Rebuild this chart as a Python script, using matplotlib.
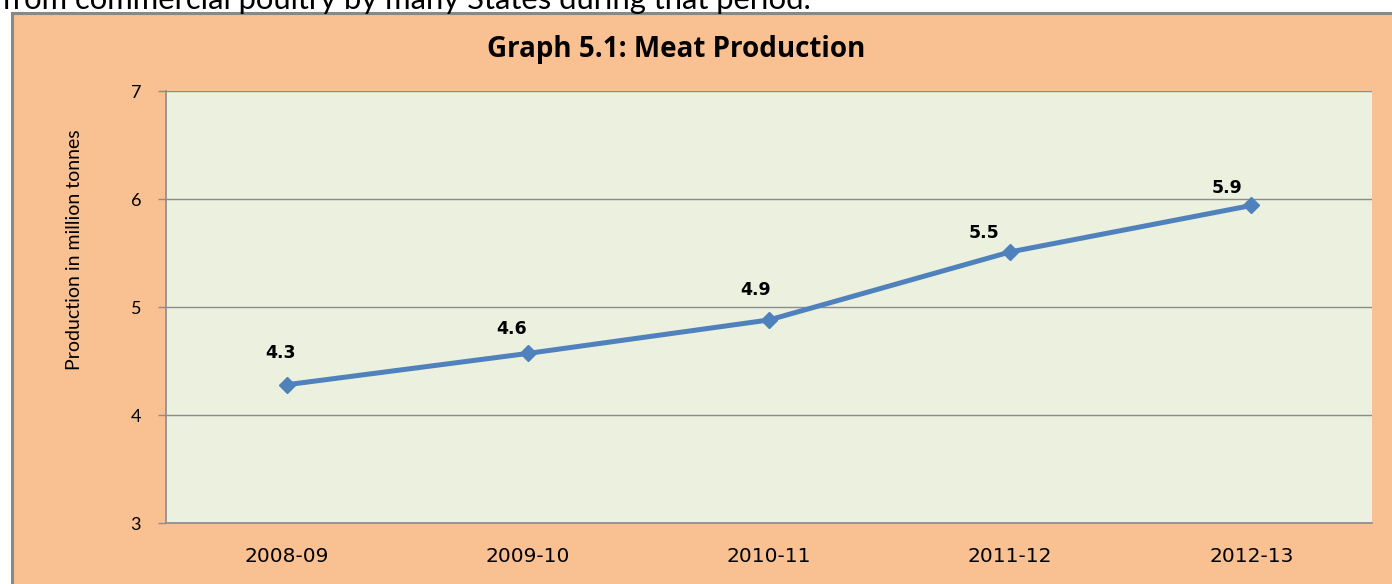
import matplotlib
matplotlib.use("Agg")
import matplotlib.pyplot as plt
from matplotlib.patches import Rectangle

categories = ["2008-09", "2009-10", "2010-11", "2011-12", "2012-13"]
production = [4.28, 4.57, 4.88, 5.51, 5.94]
value_labels = ["4.3", "4.6", "4.9", "5.5", "5.9"]
y_ticks = [3, 4, 5, 6, 7]

# label offsets in pixels (dx, dy) relative to marker
label_offsets = [(-6, 32), (-16, 24), (-13, 30), (-26, 19), (-24, 17)]

W, H, DPI = 1392, 584, 100
fig = plt.figure(figsize=(W / DPI, H / DPI), dpi=DPI, facecolor="white")

ORANGE = "#F9C092"
PLOTBG = "#EBF0DF"
LINE = "#4F81BD"
GRID = "#8C8C8C"

# outer chart frame
fig.patches.append(Rectangle((12 / W, -0.05), 1.1, 1 - 13 / H + 0.05,
                             transform=fig.transFigure, facecolor=ORANGE,
                             edgecolor="#888888", linewidth=2.2, zorder=-5))

# cropped body text at very top
fig.text(2 / W, 1 - 9 / H, "from commercial poultry by many States during that period.",
         fontsize=22.3, family="Lato", color="black", va="baseline", ha="left")

ax = fig.add_axes([166 / W, 1 - 523 / H, (1372 - 166) / W, (523 - 91) / H])
ax.set_zorder(5)
ax.set_facecolor(PLOTBG)
x = list(range(len(categories)))
ax.plot(x, production, color=LINE, lw=3.6, marker="D", ms=8.5, mfc=LINE, mec=LINE,
        zorder=3, solid_capstyle="round")

for xi, yi, lab, (dx, dy) in zip(x, production, value_labels, label_offsets):
    ax.annotate(lab, (xi, yi), xytext=(dx * 72 / DPI, dy * 72 / DPI),
                textcoords="offset points", ha="center", va="center",
                fontsize=12.5, fontweight="bold", family=["DejaVu Sans"], color="black")

ax.set_xlim(-0.5, len(categories) - 0.5)
ax.set_ylim(3, 7)
ax.set_yticks(y_ticks)
ax.set_yticklabels([str(t) for t in y_ticks], family="Lato", fontsize=13)
ax.set_xticks(x)
ax.set_xticklabels(categories, family=["DejaVu Sans"], fontsize=14.5)
ax.tick_params(axis="x", length=0, pad=17)
ax.tick_params(axis="y", length=6, width=1, color=GRID, pad=12)
ax.yaxis.grid(True, color=GRID, lw=1)
ax.set_axisbelow(True)
for s in ["top", "right"]:
    ax.spines[s].set_visible(False)
for s in ["left", "bottom"]:
    ax.spines[s].set_color(GRID)
    ax.spines[s].set_linewidth(1.2)

fig.text(75 / W, 1 - 250 / H, "Production in million tonnes", rotation=90,
         ha="center", va="center", fontsize=14, family="Lato", color="black")
fig.text(676 / W, 1 - 50 / H, "Graph 5.1: Meat Production", ha="center", va="center",
         fontsize=20, fontweight="bold", family="Open Sans", color="black")

fig.savefig("out.png", dpi=DPI, facecolor="white")
